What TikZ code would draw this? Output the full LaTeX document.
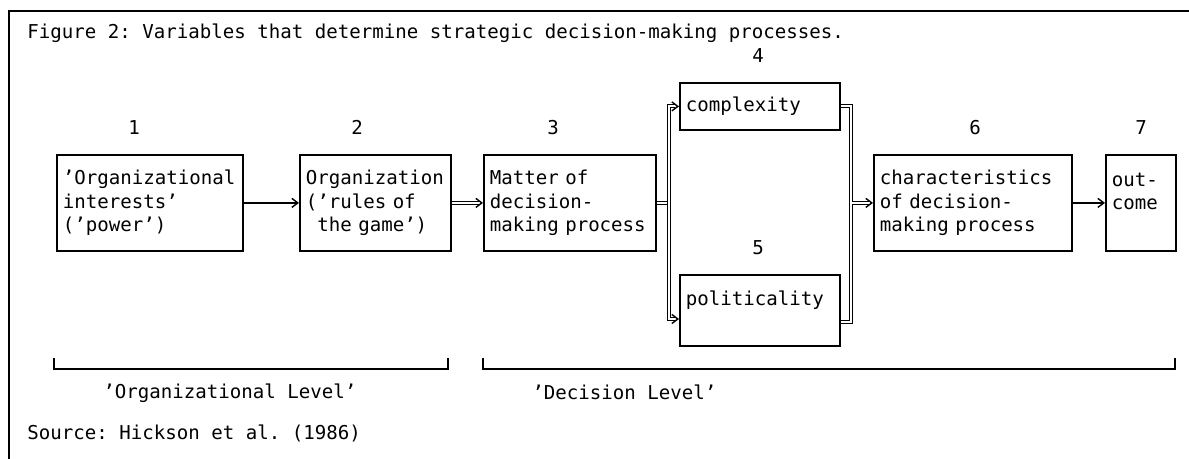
\documentclass[tikz,border=0pt]{standalone}
\usepackage{fontspec}
\setmonofont{DejaVu Sans Mono}
\usepackage{tikz}
\usetikzlibrary{arrows.meta,calc,decorations.markings}
\newcommand{\Tfont}{\ttfamily\fontsize{9.55}{11.75}\selectfont}
\newcommand{\ind}{\hphantom{x}}
\tikzset{
  Vbox/.style={draw, line width=0.9pt, align=left, font=\Tfont,
               inner xsep=3pt, inner ysep=0pt, anchor=north west},
  Nlab/.style={font=\Tfont, anchor=base},
  Tlab/.style={font=\Tfont, anchor=base west, inner sep=0pt},
  Sarr/.style={-{Straight Barb[length=3pt,width=4.5pt]}, line width=0.7pt},
  Dline/.style={double, double distance=1pt, line width=0.5pt},
  Darr/.style={Dline, shorten >=2pt,
               postaction={decorate, decoration={markings,
                 mark=at position 1 with {\arrow[line width=0.7pt]{Straight Barb[length=3pt,width=4.5pt]}}}}},
  Dfork/.style={Dline, shorten >=2pt, shorten <=2pt,
               postaction={decorate, decoration={markings,
                 mark=at position 0 with {\arrowreversed[line width=0.7pt]{Straight Barb[length=3pt,width=4.5pt]}},
                 mark=at position 1 with {\arrow[line width=0.7pt]{Straight Barb[length=3pt,width=4.5pt]}}}}},
  Brk/.style={line width=0.7pt}
}

\begin{document}
\begin{tikzpicture}[x=0.5pt, y=-0.5pt]
  \useasboundingbox (0,0) rectangle (1189,459);
  \draw[line width=0.8pt] (9,459) -- (9,11) -- (1189,11);

  \node[Tlab] (title) at (27,39)
    {Figure 2: Variables that determine strategic decision-making processes.};

  \node[Nlab] (n1) at (134,135) {1};
  \node[Nlab] (n2) at (357,135) {2};
  \node[Nlab] (n3) at (553,135) {3};
  \node[Nlab] (n4) at (758,63) {4};
  \node[Nlab] (n5) at (758,255) {5};
  \node[Nlab] (n6) at (975,135) {6};
  \node[Nlab] (n7) at (1141,135) {7};

  \node[Vbox, minimum width=93pt, minimum height=48pt, text width=87pt] (b1) at (56,154)
    {’Organizational\\interests’\\(’power’)};
  \node[Vbox, minimum width=75.5pt, minimum height=48pt, text width=69.5pt] (b2) at (299,154)
    {Organization\\(’rules of\\\ind the game’)};
  \node[Vbox, minimum width=86pt, minimum height=48pt, text width=80pt] (b3) at (483,154)
    {Matter of\\decision-\\making process};
  \node[Vbox, minimum width=80pt, minimum height=23.5pt, text width=74pt] (b4) at (679,82)
    {complexity};
  \node[Vbox, minimum width=80pt, text width=74pt, text height=15.5pt, text depth=20pt] (b5) at (679,274)
    {politicality};
  \node[Vbox, minimum width=99pt, minimum height=48pt, text width=93pt] (b6) at (873,154)
    {characteristics\\of decision-\\making process};
  \node[Vbox, minimum width=35pt, minimum height=48pt, text width=29pt] (b7) at (1105,154)
    {out-\\come\\\mbox{}};

  \coordinate (fork) at ($(b3.east)+(12,0)$);
  \coordinate (b5in) at ($(b5.north west)+(0,45)$);
  \coordinate (b5out) at ($(b5.north east)+(0,48)$);
  \coordinate (join) at ($(b6.west)+(-22,0)$);

  \draw[Sarr] (b1.east) -- (b2.west);
  \draw[Darr] (b2.east) -- (b3.west);
  \draw[Dline] (b3.east) -- (fork);
  \draw[Dfork] (b4.west) -| (fork) |- (b5in);
  \draw[Darr] (b4.east) -| (join) (b5out) -| (join) -- (b6.west);
  \draw[Sarr] (b6.east) -- (b7.west);

  % level brackets
  \draw[Brk] (54,358) |- (448,369) -- (448,358);
  \draw[Brk] (483,358) |- (1175,369) -- (1175,358);

  \node[Tlab] (orglvl) at (103,399) {’Organizational Level’};
  \node[Tlab] (declvl) at (532,400) {’Decision Level’};
  \node[Tlab] (src) at (27,440) {Source: Hickson et al. (1986)};
\end{tikzpicture}
\end{document}
